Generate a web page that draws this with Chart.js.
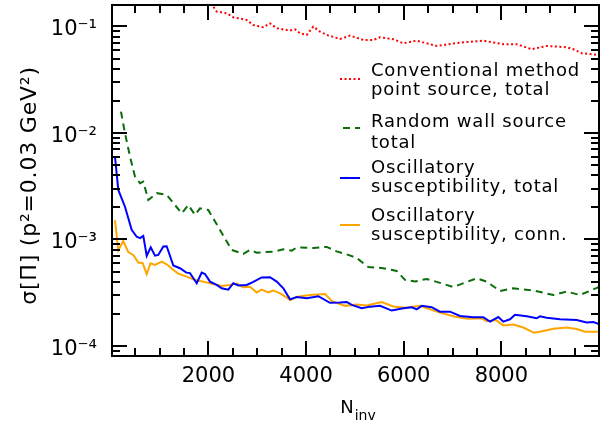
<!DOCTYPE html>
<html>
<head>
<meta charset="utf-8">
<script src="https://cdn.jsdelivr.net/npm/chart.js@4/dist/chart.umd.min.js"></script>
<style>
html,body{margin:0;padding:0;background:#fff;}
#wrap{width:600px;height:429px;position:relative;}
</style>
</head>
<body>
<div id="wrap"><canvas id="c" width="600" height="429"></canvas></div>
<script>
// ---- data ----
const seriesLabels = [
  ['Conventional method', 'point source, total'],
  ['Random wall source', 'total'],
  ['Oscillatory', 'susceptibility, total'],
  ['Oscillatory', 'susceptibility, conn.']
];

const convN = [1800, 2088, 2170, 2374, 2510, 2784, 2919, 3124, 3261, 3399, 3671, 3774, 3876, 4013, 4148, 4285, 4423, 4695, 4900, 5172, 5377, 5514, 5787, 5992, 6266, 6676, 7153, 7630, 8040, 8314, 8622, 8929, 9339, 9474, 9646, 10000];
const convSigma = [0.19, 0.156, 0.138, 0.133, 0.122, 0.115, 0.103, 0.0983, 0.107, 0.0962, 0.0914, 0.094, 0.0863, 0.0832, 0.0996, 0.0894, 0.0832, 0.0763, 0.082, 0.0747, 0.0747, 0.0792, 0.0758, 0.0695, 0.0736, 0.0656, 0.0705, 0.0736, 0.0681, 0.0681, 0.0611, 0.0656, 0.0638, 0.0611, 0.056, 0.054];

const wallN = [209, 291, 394, 496, 599, 666, 769, 941, 1145, 1453, 1588, 1725, 1827, 1997, 2237, 2477, 2714, 2852, 2989, 3329, 3534, 3706, 3808, 4148, 4423, 4627, 4865, 5037, 5275, 5582, 5857, 6027, 6231, 6471, 6743, 7016, 7495, 7700, 7972, 8245, 8654, 9064, 9338, 9611, 10000];
const wallSigma = [0.01585, 0.00993, 0.00599, 0.00389, 0.00337, 0.00349, 0.00235, 0.00272, 0.00262, 0.00176, 0.00211, 0.00170, 0.00196, 0.00189, 0.00123, 0.000796, 0.000731, 0.000796, 0.000752, 0.000768, 0.000809, 0.000785, 0.000841, 0.000832, 0.000851, 0.000772, 0.000716, 0.000670, 0.000552, 0.000537, 0.000506, 0.000417, 0.000403, 0.000426, 0.000391, 0.000358, 0.000432, 0.000401, 0.000328, 0.000348, 0.000332, 0.000301, 0.000324, 0.000301, 0.000358];

const oscTotN = [86, 154, 291, 359, 428, 531, 599, 666, 736, 818, 906, 973, 1076, 1145, 1281, 1418, 1547, 1623, 1760, 1862, 1930, 2032, 2169, 2272, 2407, 2510, 2612, 2784, 2919, 3091, 3261, 3399, 3534, 3671, 3808, 4013, 4251, 4490, 4695, 4832, 4935, 5140, 5310, 5515, 5754, 5992, 6164, 6266, 6369, 6573, 6743, 6948, 7153, 7426, 7630, 7768, 7938, 8040, 8177, 8280, 8519, 8724, 8792, 8929, 9201, 9543, 9748, 9884, 10000];
const oscTotSigma = [0.00599, 0.00292, 0.00203, 0.00158, 0.00123, 0.00106, 0.00103, 0.00108, 0.000700, 0.000845, 0.000705, 0.000716, 0.000860, 0.000864, 0.000570, 0.000537, 0.000488, 0.000483, 0.000388, 0.000488, 0.000474, 0.000402, 0.000374, 0.000348, 0.000338, 0.000388, 0.000370, 0.000374, 0.000399, 0.000440, 0.000442, 0.000402, 0.000348, 0.000274, 0.000288, 0.000281, 0.000293, 0.000254, 0.000256, 0.000259, 0.000243, 0.000226, 0.000234, 0.000238, 0.000215, 0.000226, 0.000231, 0.000221, 0.000238, 0.000231, 0.000210, 0.000210, 0.000191, 0.000186, 0.000186, 0.000169, 0.000187, 0.000169, 0.000178, 0.000196, 0.000190, 0.000182, 0.000190, 0.000184, 0.000178, 0.000175, 0.000166, 0.000168, 0.000161];

const oscConnN = [86, 154, 256, 359, 461, 564, 654, 736, 814, 906, 1043, 1152, 1281, 1383, 1555, 1725, 1895, 2032, 2272, 2442, 2585, 2714, 2852, 2989, 3091, 3227, 3329, 3487, 3681, 3825, 4081, 4388, 4531, 4797, 5037, 5242, 5549, 5787, 6027, 6334, 6676, 7051, 7317, 7598, 7700, 7890, 8040, 8245, 8450, 8669, 8860, 9064, 9338, 9543, 9713, 10000];
const oscConnSigma = [0.00152, 0.000792, 0.000968, 0.000760, 0.000716, 0.000608, 0.000598, 0.000474, 0.000598, 0.000576, 0.000619, 0.000582, 0.000517, 0.000478, 0.000448, 0.000417, 0.000402, 0.000388, 0.000366, 0.000374, 0.000385, 0.000356, 0.000360, 0.000318, 0.000338, 0.000319, 0.000332, 0.000308, 0.000270, 0.000290, 0.000301, 0.000308, 0.000263, 0.000238, 0.000245, 0.000240, 0.000259, 0.000235, 0.000228, 0.000238, 0.000210, 0.000188, 0.000180, 0.000182, 0.000171, 0.000175, 0.000156, 0.000159, 0.000149, 0.000133, 0.000138, 0.000145, 0.000149, 0.000144, 0.000136, 0.000136];

const xTickValues = [2000, 4000, 6000, 8000];
const yTickValues = [1e-4, 1e-3, 1e-2, 1e-1];
const yTickLabels = ['10\u207B\u2074', '10\u207B\u00B3', '10\u207B\u00B2', '10\u207B\u00B9'];
const xTitle = ['N', 'inv'];
const yTitle = '\u03C3[\u03A0] (p\u00B2=0.03 GeV\u00B2)';

// ---- helpers ----
const pts = (xs, ys) => xs.map((v, i) => ({x: v, y: ys[i]}));
const FONT = '"DejaVu Sans", sans-serif';

const legendSpec = [
  {lines: [75.5, 95], sample: 79},
  {lines: [126.5, 147.5], sample: 128},
  {lines: [173, 191.5], sample: 178},
  {lines: [221, 239.5], sample: 225}
];

const decor = {
  id: 'decor',
  afterDraw(chart) {
    const {ctx, chartArea: a, scales: {x, y}} = chart;
    ctx.save();
    ctx.strokeStyle = '#000';
    ctx.lineWidth = 2;
    // x ticks (bottom & top, inward)
    for (let v = 500; v < 10000; v += 500) {
      const px = Math.round(x.getPixelForValue(v));
      if (px <= a.left + 1 || px >= a.right - 1) continue;
      const len = (v % 2000 === 0) ? 15 : 8;
      ctx.beginPath();
      ctx.moveTo(px, a.bottom); ctx.lineTo(px, a.bottom - len);
      ctx.moveTo(px, a.top); ctx.lineTo(px, a.top + len);
      ctx.stroke();
    }
    // y ticks (left & right, inward)
    for (let d = -5; d <= 0; d++) {
      for (let m = 1; m <= 9; m++) {
        const v = m * Math.pow(10, d);
        if (v < y.min || v > y.max) continue;
        const py = Math.round(y.getPixelForValue(v));
        const len = (m === 1) ? 15 : 8;
        ctx.beginPath();
        ctx.moveTo(a.left, py); ctx.lineTo(a.left + len, py);
        ctx.moveTo(a.right, py); ctx.lineTo(a.right - len, py);
        ctx.stroke();
      }
    }
    // frame
    ctx.strokeRect(a.left, a.top, a.right - a.left, a.bottom - a.top);

    // axis titles
    ctx.fillStyle = '#000';
    ctx.textBaseline = 'alphabetic';
    ctx.textAlign = 'left';
    ctx.font = '18px ' + FONT;
    const cx = (a.left + a.right) / 2 + 2;
    const wN = ctx.measureText(xTitle[0]).width;
    ctx.font = '14px ' + FONT;
    const wS = ctx.measureText(xTitle[1]).width;
    const x0 = cx - (wN + wS) / 2;
    ctx.font = '18px ' + FONT;
    ctx.fillText(xTitle[0], x0, 413);
    ctx.font = '14px ' + FONT;
    ctx.fillText(xTitle[1], x0 + wN + 1, 420);

    ctx.save();
    ctx.translate(36, (a.top + a.bottom) / 2 + 5);
    ctx.rotate(-Math.PI / 2);
    ctx.font = '22px ' + FONT;
    ctx.textAlign = 'center';
    try { ctx.letterSpacing = '0.8px'; } catch (e) {}
    ctx.fillText(yTitle, 0, 0);
    ctx.restore();

    // legend
    ctx.save();
    ctx.font = '18px ' + FONT;
    ctx.textAlign = 'left';
    try { ctx.letterSpacing = '0.8px'; } catch (e) {}
    chart.data.datasets.forEach((ds, i) => {
      const spec = legendSpec[i];
      ctx.save();
      ctx.strokeStyle = ds.borderColor;
      ctx.lineWidth = ds.borderWidth;
      ctx.setLineDash(ds.borderDash || []);
      ctx.beginPath();
      ctx.moveTo(i === 1 ? 343 : 340, spec.sample);
      ctx.lineTo(360, spec.sample);
      ctx.stroke();
      ctx.restore();
      seriesLabels[i].forEach((t, j) => ctx.fillText(t, 371, spec.lines[j]));
    });
    ctx.restore();
    ctx.restore();
  }
};

new Chart(document.getElementById('c'), {
  type: 'line',
  data: {
    datasets: [
      {label: seriesLabels[0].join(' '), data: pts(convN, convSigma), borderColor: '#ff0000', borderWidth: 2, borderDash: [2, 2.5]},
      {label: seriesLabels[1].join(' '), data: pts(wallN, wallSigma), borderColor: '#0b6e0b', borderWidth: 2, borderDash: [7, 5]},
      {label: seriesLabels[2].join(' '), data: pts(oscTotN, oscTotSigma), borderColor: '#0000ff', borderWidth: 2},
      {label: seriesLabels[3].join(' '), data: pts(oscConnN, oscConnSigma), borderColor: '#ffa500', borderWidth: 2}
    ]
  },
  options: {
    responsive: false,
    animation: false,
    devicePixelRatio: 1,
    layout: {padding: {left: 0, right: 1, top: 5, bottom: 0}},
    elements: {point: {radius: 0}, line: {tension: 0, fill: false}},
    datasets: {line: {clip: 0}},
    plugins: {legend: {display: false}, tooltip: {enabled: false}},
    scales: {
      x: {
        type: 'linear', min: 25, max: 10000,
        grid: {display: false, drawTicks: false},
        border: {display: false},
        afterBuildTicks: s => { s.ticks = xTickValues.map(v => ({value: v})); },
        afterFit: s => { s.height = 73; s.paddingLeft = 0; s.paddingRight = 0; },
        ticks: {color: '#000', font: {family: FONT, size: 21}, padding: 8, maxRotation: 0, callback: v => String(v)}
      },
      y: {
        type: 'logarithmic', min: 8.05e-5, max: 0.159,
        grid: {display: false, drawTicks: false},
        border: {display: false},
        afterBuildTicks: s => { s.ticks = yTickValues.map(v => ({value: v})); },
        afterFit: s => { s.width = 112; s.paddingTop = 0; s.paddingBottom = 0; },
        ticks: {color: '#000', font: {family: FONT, size: 21, lineHeight: 0.3}, padding: 15,
          callback: v => { const i = yTickValues.findIndex(t => Math.abs(t - v) / t < 1e-6); return i >= 0 ? ['', yTickLabels[i]] : ''; }}
      }
    }
  },
  plugins: [decor]
});
</script>
</body>
</html>
